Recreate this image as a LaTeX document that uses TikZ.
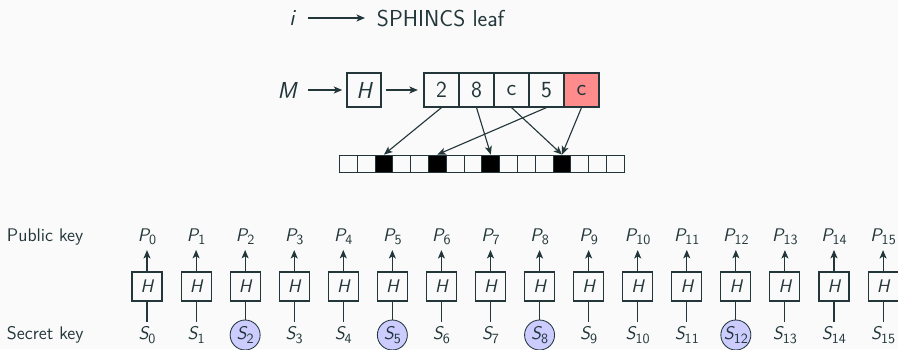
\documentclass[tikz,border=0pt]{standalone}
\usetikzlibrary{arrows.meta}
\definecolor{teal}{HTML}{23373B}
\definecolor{bg}{HTML}{FAFAFA}
% sans italic variable with upright index
\newcommand{\var}[2]{{\itshape #1}\raisebox{-0.4ex}{\fontsize{10}{10}\selectfont #2}}

\begin{document}
\begin{tikzpicture}[x=0.025cm,y=-0.025cm,>={Stealth[length=6pt,width=5pt,inset=1.5pt]},
	every node/.style={font=\fontsize{13}{15}\selectfont\sffamily,text=teal},
	big/.style={font=\fontsize{16.4}{19}\selectfont\sffamily},
	box/.style={big,draw=teal,line width=0.8pt,minimum width=35*0.025cm,minimum height=34*0.025cm,inner sep=0pt},
	cell/.style={draw=teal,line width=0.6pt,minimum width=17.8*0.025cm,minimum height=17*0.025cm,inner sep=0pt},
	hbox/.style={draw=teal,line width=0.8pt,minimum width=30*0.025cm,minimum height=29*0.025cm,inner sep=0pt},
	line/.style={teal,line width=0.8pt}]
	\fill[bg] (0,0) rectangle (898,349);
	\useasboundingbox (0,0) rectangle (898,349);
	% leaf index
	\node[big] (i) at (292,18) {\itshape i};
	\node[big,anchor=west] (leaf) at (372,18) {SPHINCS leaf};
	\draw[line,->,shorten <=6pt,shorten >=5pt] (i) -- (leaf);
	% message digest
	\node[big] (M) at (287,90) {\itshape M};
	\node[box,minimum width=34*0.025cm] (H) at (364,90) {\itshape H};
	\foreach \v [count=\k from 0] in {2,8,c,5,c}
		\node[box] (d\k) at (441.5+35*\k,90) {\v};
	\node[box,fill=red!45] at (d4) {c};
	\draw[line,->,shorten <=5pt,shorten >=3pt] (M) -- (H);
	\draw[line,->,shorten <=3pt,shorten >=4pt] (H) -- (d0);
	% bit field
	\foreach \j in {0,...,15}
		\node[cell] (c\j) at (348.4+17.8*\j,163.5) {};
	\foreach \j in {2,5,8,12}
		\node[cell,fill=black] at (c\j) {};
	\foreach \a/\b in {0/2,1/8,2/12,3/5,4/12}
		\draw[line,->] (d\a.south) -- (c\b.north);
	% one-time keys
	\node[anchor=west] (pk) at (2,237) {Public key};
	\node[anchor=west] (sk) at (2,335) {Secret key};
	\foreach \j in {0,...,15}{
		\node (P\j) at (147+49.07*\j,237) {\var{P}{\j}};
		\node[hbox] (h\j) at (147+49.07*\j,286.5) {\itshape H};
		\node (S\j) at (147+49.07*\j,335) {\var{S}{\j}};
		\draw[line,->] (h\j) -- (P\j);
		\draw[line] (S\j) -- (h\j);
	}
	\foreach \j in {2,5,8,12}
		\node[draw=teal,line width=0.6pt,fill=blue!20,circle,minimum size=30*0.025cm,inner sep=0pt] at (S\j) {\var{S}{\j}};
\end{tikzpicture}
\end{document}
